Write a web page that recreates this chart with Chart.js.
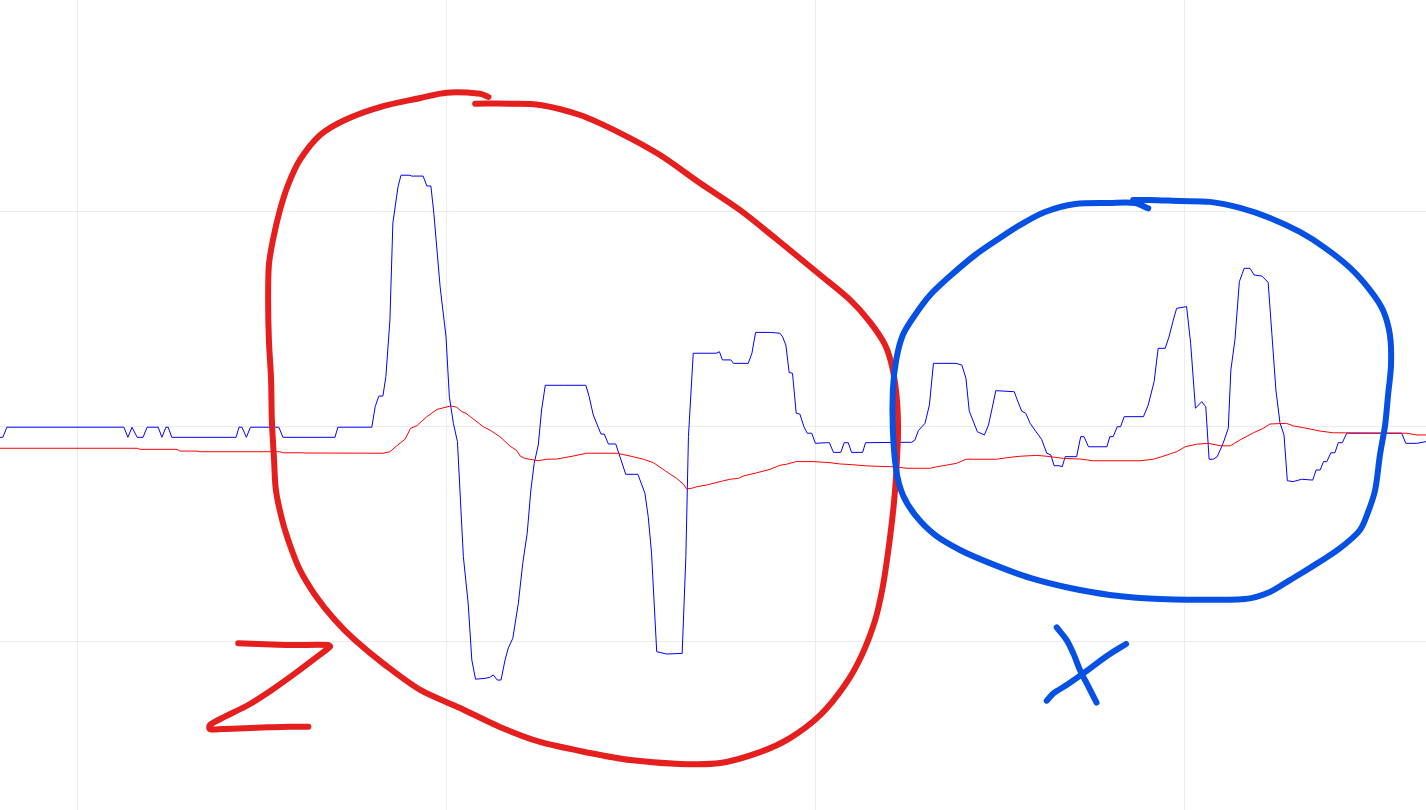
<!DOCTYPE html>
<html>
<head>
<meta charset="utf-8">
<script src="https://cdn.jsdelivr.net/npm/chart.js@4/dist/chart.umd.min.js"></script>
<style>
  html, body { margin: 0; padding: 0; background: #ffffff; }
  #wrap { width: 1426px; height: 810px; position: relative; }
  canvas { display: block; }
</style>
</head>
<body>
<div id="wrap"><canvas id="c" width="1426" height="810"></canvas></div>
<script>
// ---- data (x: sample index, y: signal value) ----
const xTicks = [0, 100, 200, 300];
const yTicks = [-100, 0, 100];

const blueSeries = [[-20.9,-4.8],[-20.1,-4.8],[-19.0,-0.1],[12.7,-0.1],[13.8,-4.8],[14.9,-0.1],[16.3,-4.8],[17.9,-4.8],[19.0,-0.1],[22.0,-0.1],[23.0,-4.8],[24.1,-0.1],[24.7,-0.1],[25.7,-4.8],[43.1,-4.8],[43.9,-0.1],[44.7,-0.1],[45.9,-4.8],[47.0,-0.1],[54.7,-0.1],[55.8,-4.8],[69.9,-4.8],[70.7,-0.1],[79.9,-0.1],[80.8,9.4],[81.8,14.4],[82.9,14.4],[83.7,23.4],[84.8,49.8],[85.6,94.9],[87.0,111.8],[87.8,117.1],[90.2,117.1],[90.7,116.7],[93.8,116.7],[94.8,112.1],[95.9,112.1],[96.7,99.5],[98.4,65.3],[100.0,42.0],[100.9,14.1],[102.0,1.7],[103.1,-6.8],[104.7,-60.3],[106.0,-81.9],[107.0,-108.4],[108.0,-117.3],[110.6,-116.9],[111.9,-116.4],[112.8,-115.3],[113.9,-117.7],[114.9,-117.7],[116.0,-108.4],[116.9,-102.7],[118.1,-98.3],[119.6,-82.0],[120.8,-63.4],[122.0,-49.4],[123.0,-29.3],[123.9,-16.9],[125.0,-8.4],[125.9,7.9],[126.9,19.4],[132.2,19.4],[137.9,19.4],[138.8,14.1],[139.9,5.6],[142.0,-3.3],[142.9,-3.3],[144.0,-7.9],[146.0,-7.9],[147.2,-14.1],[148.7,-22.0],[152.0,-22.0],[153.9,-30.8],[154.8,-41.7],[155.7,-58.7],[157.1,-104.5],[159.8,-105.6],[164.0,-105.3],[165.0,-60.3],[165.7,-4.5],[167.0,34.3],[173.2,34.3],[174.1,35.0],[174.9,31.2],[177.2,31.2],[177.9,29.6],[181.9,29.6],[182.9,34.3],[183.9,44.0],[188.0,44.0],[190.5,43.6],[191.2,42.0],[192.1,38.1],[193.0,25.3],[193.9,25.0],[194.9,6.4],[195.9,6.0],[197.0,0.1],[197.9,-2.9],[199.1,-2.9],[200.1,-7.6],[203.2,-7.3],[203.9,-7.3],[205.0,-11.8],[207.0,-11.8],[207.9,-7.3],[209.0,-7.3],[209.9,-11.8],[212.9,-11.8],[213.7,-7.3],[226.2,-7.1],[227.1,-6.0],[228.0,-1.7],[229.8,1.7],[231.0,10.2],[232.1,29.6],[238.2,29.6],[239.8,28.8],[240.9,22.7],[241.8,7.4],[244.0,-2.2],[245.9,-3.7],[247.0,0.9],[247.9,7.9],[249.0,16.9],[254.0,16.4],[254.8,12.6],[256.0,7.4],[257.1,6.4],[258.3,1.7],[259.9,-2.2],[261.4,-5.7],[262.8,-12.2],[263.9,-13.0],[264.8,-18.0],[266.1,-18.0],[267.0,-18.5],[267.8,-13.8],[270.9,-13.8],[272.0,-4.5],[272.9,-4.5],[274.1,-9.2],[279.1,-9.2],[279.9,-4.5],[280.8,-4.5],[281.9,0.1],[282.8,0.1],[283.8,4.8],[289.0,4.8],[290.3,10.2],[291.9,21.1],[293.0,36.6],[294.9,36.6],[296.0,42.3],[297.1,49.8],[298.0,55.2],[300.7,56.0],[301.8,38.9],[303.1,8.7],[304.8,11.8],[305.9,9.4],[306.8,-15.0],[307.9,-15.0],[309.0,-13.8],[310.6,-7.6],[312.0,-0.6],[312.7,26.5],[313.8,40.5],[315.0,67.6],[316.3,73.8],[317.9,73.8],[319.0,70.7],[321.1,70.2],[322.8,67.3],[323.8,43.6],[324.9,17.2],[326.0,2.0],[327.1,-3.7],[328.0,-25.0],[329.6,-25.4],[331.9,-24.3],[334.9,-24.7],[335.8,-20.0],[336.9,-20.0],[337.8,-16.1],[338.7,-16.1],[339.8,-12.0],[340.9,-12.0],[341.8,-7.3],[342.9,-7.3],[344.1,-2.9],[359.0,-2.9],[360.1,-7.6],[363.1,-7.6],[365.6,-6.8]];

const redSeries = [[-20.9,-9.9],[16.3,-9.9],[17.1,-10.4],[27.1,-10.4],[27.9,-11.2],[32.5,-11.2],[33.3,-11.5],[55.0,-11.5],[55.8,-12.0],[61.0,-12.0],[61.8,-12.1],[82.9,-12.2],[84.8,-11.5],[86.6,-8.8],[88.9,-5.7],[90.4,-0.6],[92.1,0.6],[94.8,4.8],[97.6,8.2],[101.3,9.8],[102.9,9.2],[104.3,7.1],[105.4,6.4],[110.1,0.1],[111.9,-1.4],[114.6,-4.5],[117.3,-8.8],[119.2,-11.0],[120.1,-13.5],[121.4,-14.6],[125.0,-15.7],[127.3,-15.0],[130.0,-14.9],[134.5,-13.5],[138.1,-12.2],[146.3,-12.2],[149.9,-13.5],[153.5,-15.0],[156.2,-16.6],[158.0,-18.7],[160.2,-21.3],[162.5,-23.9],[164.3,-26.5],[165.2,-28.8],[166.6,-28.5],[167.9,-27.8],[170.6,-27.0],[174.3,-25.4],[177.0,-24.3],[179.2,-23.9],[180.6,-22.8],[184.2,-21.3],[187.8,-19.7],[190.5,-17.8],[192.3,-17.3],[194.9,-16.1],[199.5,-16.1],[204.1,-16.6],[206.8,-17.2],[209.9,-17.5],[214.0,-18.1],[221.2,-18.5],[224.9,-19.2],[231.2,-19.2],[233.0,-18.5],[235.7,-17.7],[238.4,-16.9],[240.9,-15.0],[249.2,-15.0],[251.9,-14.3],[255.6,-13.6],[260.1,-13.2],[262.8,-13.6],[267.3,-14.6],[271.8,-14.9],[275.4,-15.7],[288.1,-15.7],[291.7,-15.0],[294.0,-13.8],[298.0,-11.5],[300.3,-9.2],[303.4,-8.0],[306.6,-7.6],[309.8,-8.7],[312.5,-8.8],[315.2,-6.0],[318.8,-2.7],[321.5,-0.6],[323.3,1.4],[327.8,1.7],[329.6,0.5],[332.3,-0.3],[336.9,-1.9],[340.5,-2.7],[360.3,-2.9],[363.1,-3.7],[365.6,-3.7]];

// hand-drawn annotation strokes (same data units)
const loopZ = [[107.9,150.4],[117.3,150.4],[125.5,149.8],[136.3,145.1],[147.2,136.7],[158.0,126.5],[168.8,113.5],[179.7,100.9],[189.2,87.9],[201.4,70.7],[209.5,59.1],[214.9,48.8],[219.0,38.1],[221.1,26.5],[222.2,12.6],[222.5,-1.4],[222.2,-15.3],[221.7,-29.3],[220.9,-43.3],[219.5,-61.9],[218.2,-75.8],[216.3,-89.8],[212.7,-106.0],[208.1,-120.0],[201.4,-134.0],[193.2,-144.7],[185.1,-151.2],[174.3,-156.3],[163.4,-156.7],[149.9,-154.9],[139.0,-151.6],[125.5,-146.5],[114.6,-139.5],[103.8,-130.7],[93.0,-122.3],[83.5,-110.7],[75.3,-99.1],[69.9,-89.8],[64.5,-78.1],[60.4,-66.5],[57.7,-54.9],[55.6,-43.3],[53.9,-29.3],[53.4,-15.3],[52.8,3.3],[52.6,21.9],[52.0,40.5],[51.8,59.1],[52.0,75.3],[53.1,87.0],[55.0,100.9],[57.2,112.6],[60.4,124.2],[65.9,135.8],[72.6,142.8],[82.1,148.8],[93.0,153.0],[100.2,155.5],[109.2,155.0],[111.5,153.5]];
const loopX = [[290.3,101.7],[286.7,104.2],[279.9,104.2],[270.5,103.7],[262.3,100.0],[255.6,94.0],[250.1,87.9],[243.4,80.0],[236.6,70.2],[231.2,61.4],[227.1,52.1],[223.8,42.8],[222.0,31.2],[221.1,17.2],[221.1,-1.4],[222.0,-20.0],[223.8,-31.6],[227.1,-40.9],[232.5,-50.2],[239.3,-57.2],[247.4,-63.3],[258.3,-70.2],[269.1,-74.9],[279.9,-78.1],[293.5,-80.0],[316.5,-80.0],[323.3,-76.7],[328.7,-71.2],[334.1,-65.6],[342.3,-56.3],[347.7,-47.9],[349.9,-39.5],[351.8,-29.3],[353.1,-13.0],[354.5,0.9],[355.3,14.9],[356.1,28.8],[355.8,42.8],[353.9,54.4],[350.4,63.7],[345.0,74.0],[338.2,83.3],[331.4,90.7],[323.3,97.2],[315.2,101.9],[307.0,104.7],[298.9,105.1],[290.8,105.6],[286.2,105.6]];
const letterZ = [[43.7,-100.6],[54.6,-101.3],[59.1,-101.4],[68.1,-101.4],[68.6,-102.2],[64.5,-107.6],[59.1,-114.6],[52.8,-122.3],[46.4,-129.3],[40.1,-134.7],[36.0,-138.6],[36.0,-140.5],[39.2,-140.5],[45.5,-140.1],[51.8,-139.7],[57.3,-139.4],[62.7,-139.4]];
const letterX1 = [[265.5,-93.2],[268.2,-99.1],[270.0,-105.3],[271.8,-113.0],[274.1,-120.8],[276.3,-128.2]];
const letterX2 = [[284.3,-100.9],[279.1,-106.5],[272.7,-114.6],[268.2,-120.0],[264.6,-123.9],[262.8,-127.3]];

const toXY = arr => arr.map(p => ({ x: p[0], y: p[1] }));

const seriesStyle = (color) => ({
  borderColor: color, borderWidth: 1, pointRadius: 0, tension: 0, fill: false, showLine: true
});
const strokeStyle = (color) => ({
  borderColor: color, borderWidth: 6, pointRadius: 0, tension: 0.3, fill: false, showLine: true,
  borderCapStyle: 'round', borderJoinStyle: 'round'
});

const RED_MARK = '#e51e1e';
const BLUE_MARK = '#0650e3';

new Chart(document.getElementById('c'), {
  type: 'scatter',
  data: {
    datasets: [
      Object.assign({ label: 'X', data: toXY(letterX1) }, strokeStyle(BLUE_MARK)),
      Object.assign({ label: 'X2', data: toXY(letterX2) }, strokeStyle(BLUE_MARK)),
      Object.assign({ label: 'loop X', data: toXY(loopX) }, strokeStyle(BLUE_MARK)),
      Object.assign({ label: 'Z', data: toXY(letterZ) }, strokeStyle(RED_MARK)),
      Object.assign({ label: 'loop Z', data: toXY(loopZ) }, strokeStyle(RED_MARK)),
      Object.assign({ label: 'red', data: toXY(redSeries) }, seriesStyle('#ff0000')),
      Object.assign({ label: 'blue', data: toXY(blueSeries) }, seriesStyle('#0000ff'))
    ]
  },
  options: {
    responsive: false,
    animation: false,
    layout: { padding: 0 },
    plugins: { legend: { display: false }, tooltip: { enabled: false } },
    scales: {
      x: {
        type: 'linear',
        min: -20.87, max: 365.58,
        afterBuildTicks: s => { s.ticks = xTicks.map(v => ({ value: v })); },
        afterFit: s => { s.height = 0; },
        ticks: { display: false },
        grid: { color: '#ececec', drawTicks: false, lineWidth: 1 },
        border: { display: false }
      },
      y: {
        type: 'linear',
        min: -178.14, max: 198.6,
        afterBuildTicks: s => { s.ticks = yTicks.map(v => ({ value: v })); },
        afterFit: s => { s.width = 0; },
        ticks: { display: false },
        grid: { color: '#ececec', drawTicks: false, lineWidth: 1 },
        border: { display: false }
      }
    }
  }
});
</script>
</body>
</html>
